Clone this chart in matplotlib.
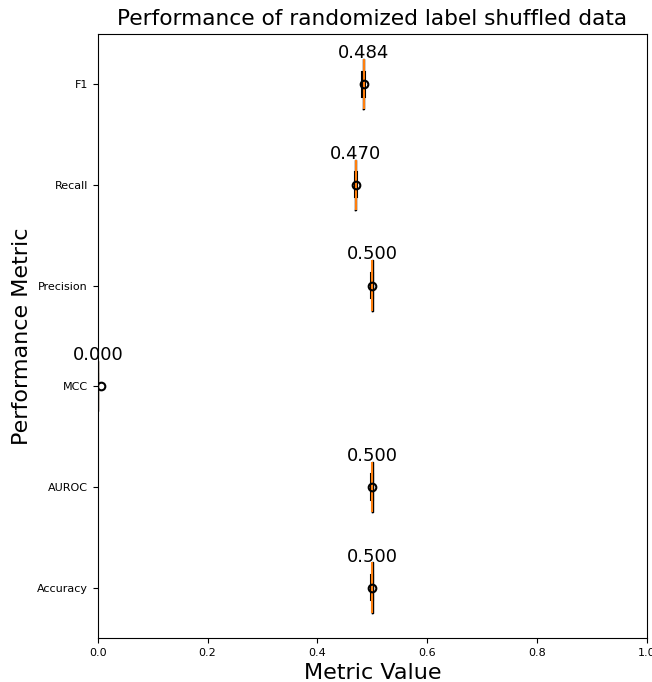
import matplotlib

matplotlib.use("Agg")
import matplotlib.pyplot as plt
import numpy as np

# metric names, bottom to top
METRICS = ["Accuracy", "AUROC", "MCC", "Precision", "Recall", "F1"]

# per-run scores for each metric (label-shuffled runs)
ACCURACY = [0.498, 0.499, 0.499, 0.500, 0.500, 0.500, 0.501, 0.501, 0.502]
AUROC = [0.498, 0.499, 0.499, 0.500, 0.500, 0.500, 0.501, 0.501, 0.502]
MCC = [-0.002, -0.001, -0.001, 0.000, 0.000, 0.000, 0.001, 0.001, 0.047]
PRECISION = [0.498, 0.499, 0.499, 0.500, 0.500, 0.500, 0.501, 0.501, 0.502]
RECALL = [0.468, 0.469, 0.469, 0.470, 0.470, 0.470, 0.471, 0.471, 0.472]
F1 = [0.482, 0.483, 0.483, 0.484, 0.484, 0.484, 0.485, 0.485, 0.486]

DATA = [ACCURACY, AUROC, MCC, PRECISION, RECALL, F1]


def main() -> None:
    fig = plt.figure(figsize=(6.52, 6.82), dpi=100)
    ax = fig.add_axes([0.150, 0.0645, 0.842, 0.886])

    pos = np.arange(1, len(METRICS) + 1)
    ax.boxplot(DATA, positions=pos, vert=False, widths=0.5,
               showmeans=True, showfliers=False,
               meanprops=dict(marker="o", markerfacecolor="none",
                              markeredgecolor="black", markersize=5.5,
                              markeredgewidth=1.5),
               medianprops=dict(color="#ff7f0e", linewidth=1.5),
               capprops=dict(linewidth=1.5),
               whiskerprops=dict(linewidth=1.5))

    for p, vals in zip(pos, DATA):
        med = np.median(vals)
        ax.text(med, p + 0.22, f"{med:.3f}", ha="center", va="bottom", fontsize=13)

    ax.set_yticks(pos, METRICS, fontsize=8)
    ax.tick_params(axis="x", labelsize=8)
    ax.set_xlim(0, 1)
    ax.set_ylim(0.5, 6.5)
    ax.set_xlabel("Metric Value", fontsize=16)
    ax.set_ylabel("Performance Metric", fontsize=16)
    ax.set_title("Performance of randomized label shuffled data", fontsize=15.6)

    fig.savefig("out.png", dpi=100)
    plt.close(fig)


if __name__ == "__main__":
    main()
